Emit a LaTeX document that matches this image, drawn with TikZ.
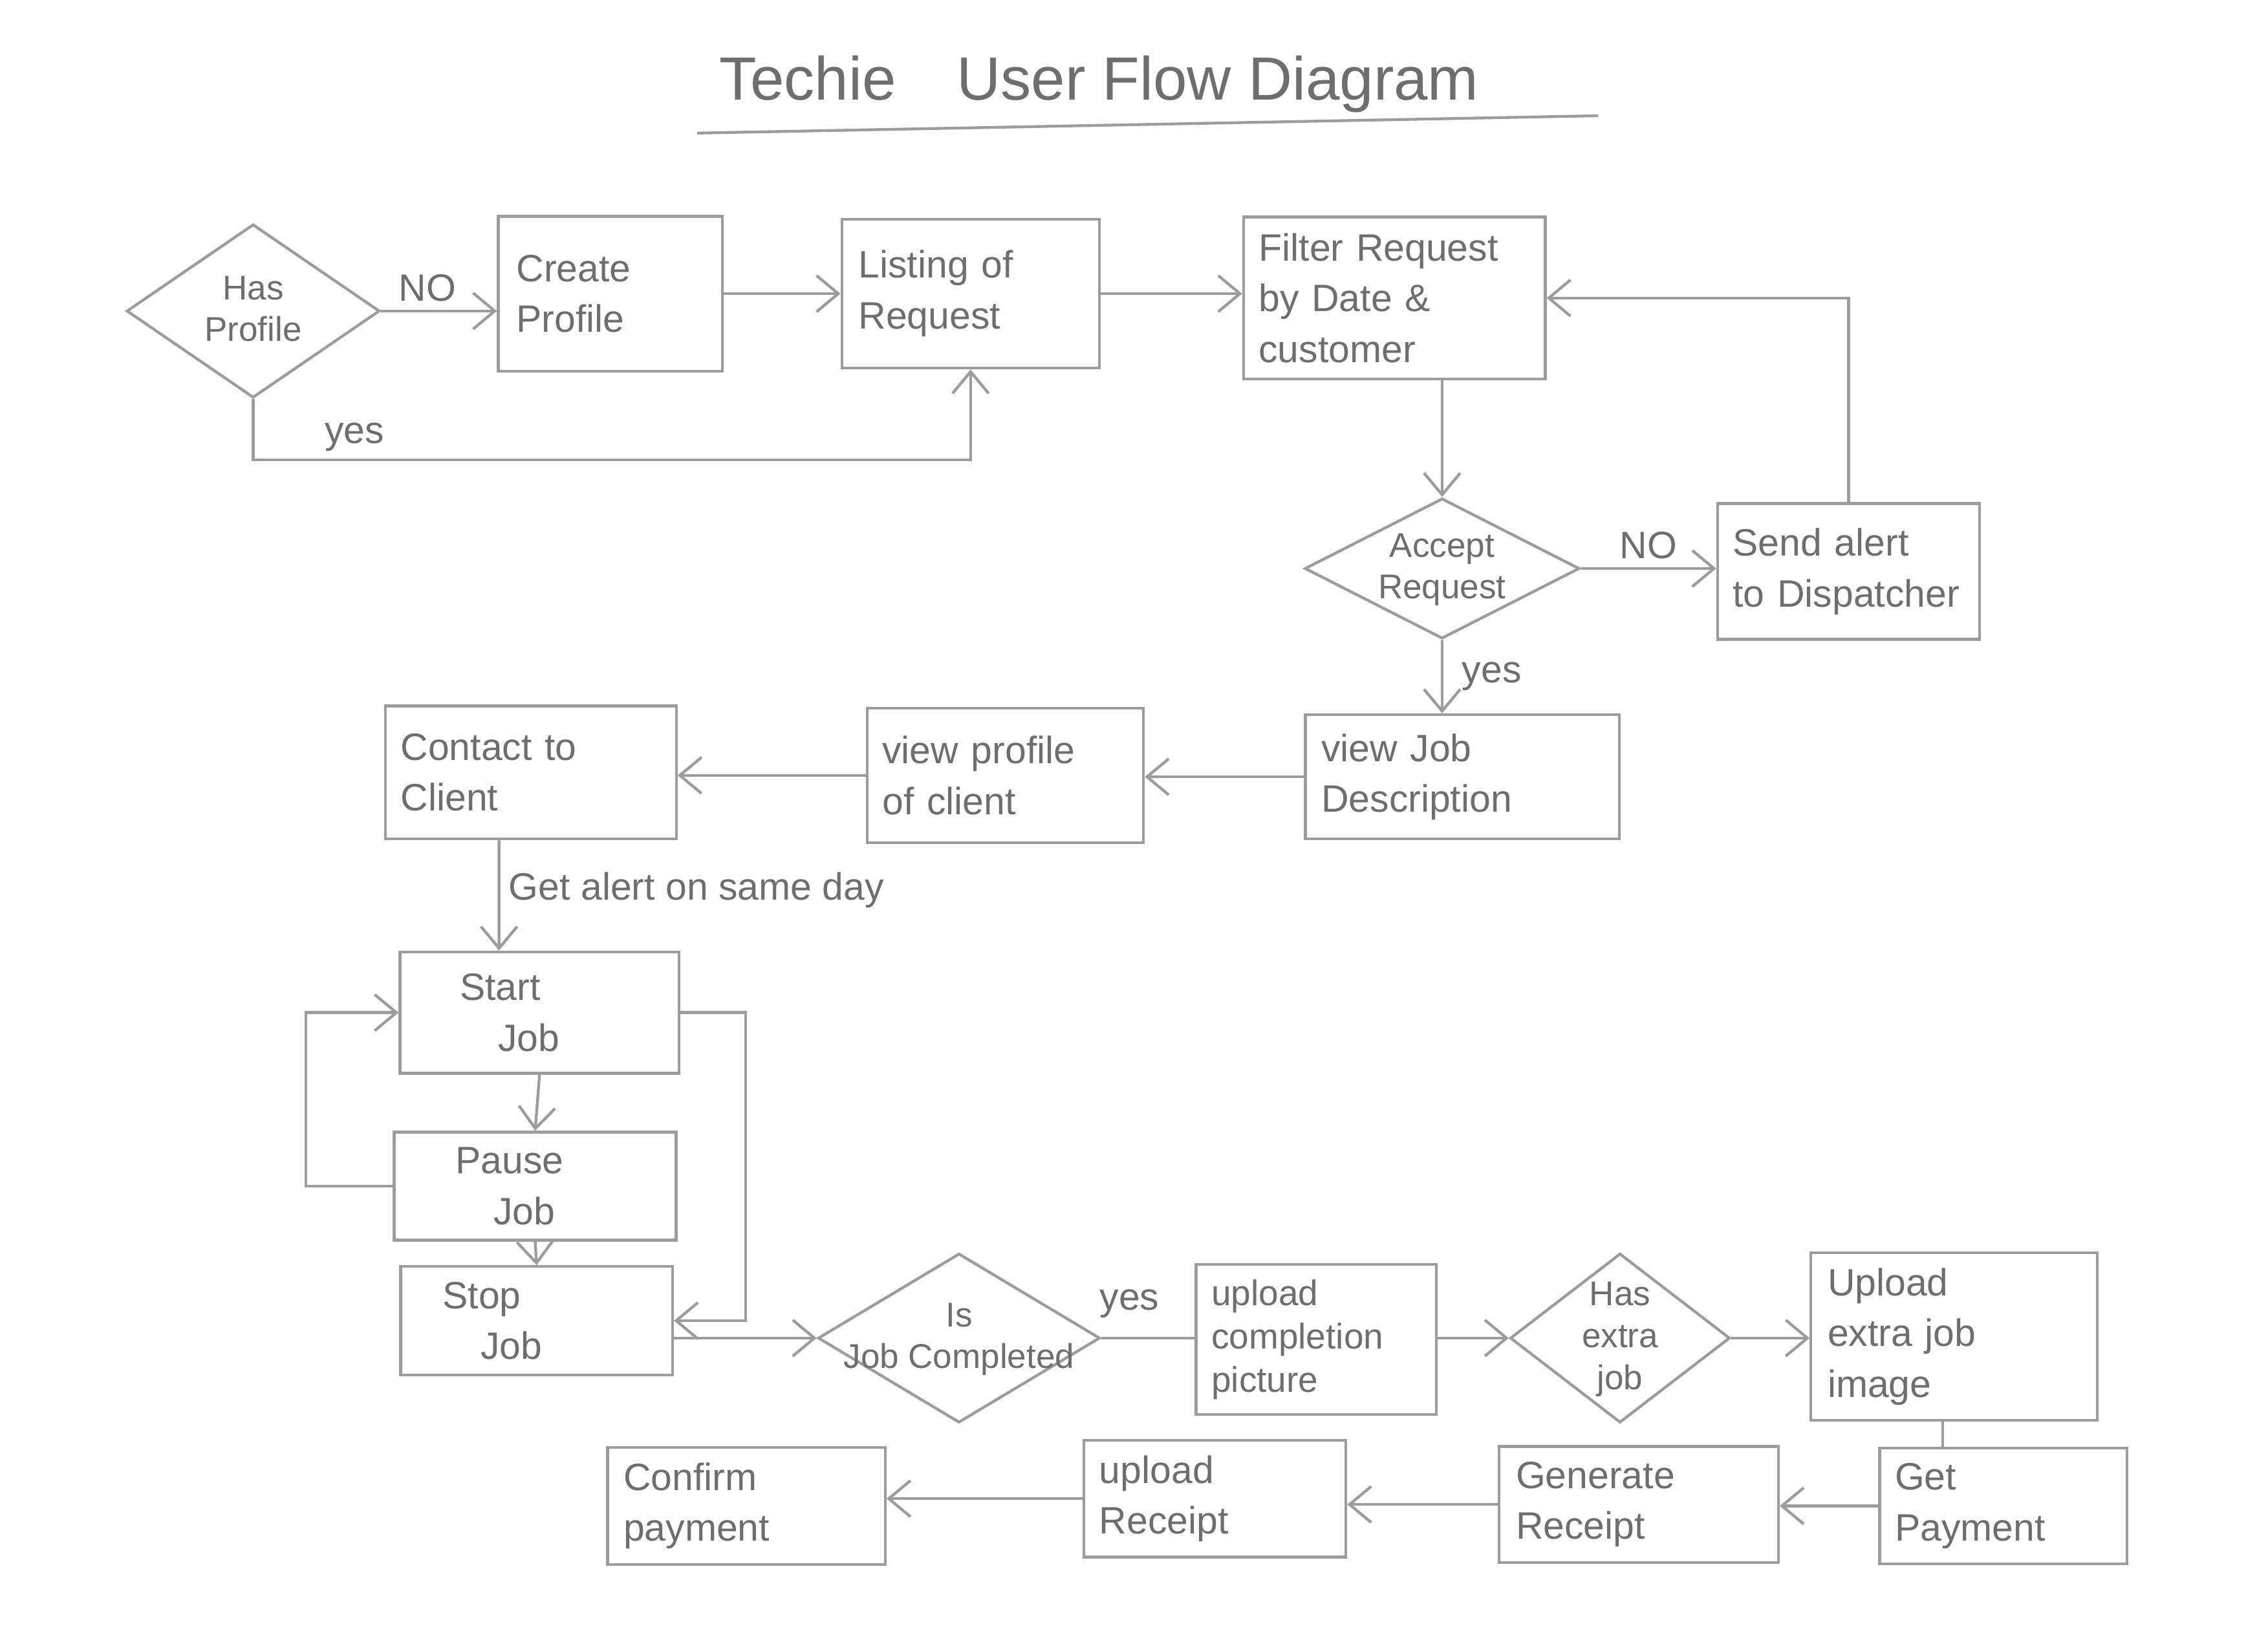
\documentclass[tikz,border=0pt]{standalone}
\usepackage{fontspec}
\setmainfont{Liberation Sans}
\usetikzlibrary{shapes.geometric,arrows.meta,calc}
\definecolor{pencil}{HTML}{9C9C9C}
\definecolor{pentext}{HTML}{6E6E6E}
\newcommand\diatext[1]{\raisebox{-4pt}[0pt][0pt]{\makebox[0pt]{\fontsize{13.5}{16.5}\selectfont\begin{tabular}{@{}c@{}}#1\end{tabular}}}}
\begin{document}
\begin{tikzpicture}[x=0.02cm,y=-0.02cm,
  every node/.style={text=pentext,font=\fontsize{15}{20}\selectfont},
  box/.style={draw=pencil,line width=1.1pt,rectangle,align=left,inner sep=6pt},
  dia/.style={draw=pencil,line width=1.1pt,diamond,inner sep=0pt},
  flow/.style={draw=pencil,line width=1.1pt,-{Straight Barb[length=3mm,width=5mm]}},
  plain/.style={draw=pencil,line width=1.1pt},
  lbl/.style={font=\fontsize{15}{18}\selectfont}]
\useasboundingbox (0,0) rectangle (1568,1130);

% title
\node (title) at (760,58) {\fontsize{24}{28}\selectfont Techie\quad User Flow Diagram};
\draw[plain] (482,92) -- (1105,80);

% row 1
\node[dia,minimum width=3.5cm,minimum height=2.4cm] (hasprof) at (175,215) {\diatext{Has\\Profile}};
\node[box,minimum width=3.1cm,minimum height=2.14cm,text width=2.6cm] (create) at (422,203) {Create\\Profile};
\node[box,minimum width=3.56cm,minimum height=2.06cm,text width=3.1cm] (listing) at (671,203) {Listing of\\Request};
\node[box,minimum width=4.16cm,minimum height=2.24cm,text width=3.75cm] (filter) at (964,206) {Filter Request\\by Date \&\\customer};

% row 2
\node[dia,minimum width=3.8cm,minimum height=1.94cm] (accept) at (997,393) {\diatext{Accept\\Request}};
\node[box,minimum width=3.6cm,minimum height=1.88cm,text width=3.2cm] (send) at (1278,395) {Send alert\\to Dispatcher};

% row 3
\node[box,minimum width=4.34cm,minimum height=1.72cm,text width=3.9cm] (viewjob) at (1011,537) {view Job\\Description};
\node[box,minimum width=3.8cm,minimum height=1.86cm,text width=3.4cm] (viewprof) at (695,536) {view profile\\of client};
\node[box,minimum width=4.02cm,minimum height=1.84cm,text width=3.6cm] (contact) at (367,534) {Contact to\\Client};

% job column
\node[box,minimum width=3.86cm,minimum height=1.68cm,text width=2.2cm] (start) at (373,700) {Start\\\quad Job};
\node[box,minimum width=3.9cm,minimum height=1.2cm,text width=2.2cm] (pause) at (370,820) {Pause\\\quad Job};
\node[box,minimum width=3.76cm,minimum height=1.08cm,text width=2.6cm] (stop) at (371,913) {Stop\\\quad Job};

% row 5
\node[dia,minimum width=3.9cm,minimum height=2.34cm] (isjob) at (663,925) {\diatext{Is\\Job Completed}};
\node[box,minimum width=3.3cm,minimum height=1.66cm,text width=2.9cm,font=\fontsize{14}{17}\selectfont] (upcomp) at (910,926) {upload\\completion\\picture};
\node[dia,minimum width=3.04cm,minimum height=2.34cm] (extra) at (1120,925) {\diatext{Has\\extra\\job}};
\node[box,minimum width=3.96cm,minimum height=1.9cm,text width=3.5cm] (upextra) at (1351,924) {Upload\\extra job\\image};

% row 6
\node[box,minimum width=3.4cm,minimum height=1.36cm,text width=3.0cm] (getpay) at (1385,1041) {Get\\Payment};
\node[box,minimum width=3.86cm,minimum height=1.4cm,text width=3.4cm] (genrec) at (1133,1040) {Generate\\Receipt};
\node[box,minimum width=3.6cm,minimum height=1.34cm,text width=3.2cm] (uprec) at (840,1036) {upload\\Receipt};
\node[box,minimum width=3.84cm,minimum height=1.46cm,text width=3.4cm] (confirm) at (516,1041) {Confirm\\payment};

\coordinate (yescorner) at (175,318);

% connectors
\draw[flow] (hasprof.east) -- node[lbl,above,pos=0.4] (lno1) {NO} (hasprof.east -| create.west);
\draw[flow] (create) -- (listing);
\draw[flow] (listing.east) -- (listing.east -| filter.west);
\draw[flow] (hasprof.south) -- (yescorner) -| (listing.south);
\node[lbl] (lyes1) at (245,302) {yes};
\draw[flow] (accept.north |- filter.south) -- (accept.north);
\draw[flow] (accept.east) -- node[lbl,above] (lno2) {NO} (accept.east -| send.west);
\draw[flow] (send.north) |- (filter.east);
\draw[flow] (accept.south) -- node[lbl,right,xshift=4pt] (lyes2) {yes} (accept.south |- viewjob.north);
\draw[flow] (viewjob.west) -- (viewjob.west -| viewprof.east);
\draw[flow] (viewprof.west) -- (viewprof.west -| contact.east);
\draw[flow] ($(contact.south)+(-0.44cm,0)$) -- node[lbl,right,pos=0.45] (lalert) {Get alert on same day} ($(start.north)+(-0.56cm,0)$);
\draw[flow] (start.south) -- (pause.north);
\draw[flow] (pause.south) -- (stop.north);
\draw[flow] (pause.west) -- ++(-1.2cm,0) |- (start.west);
\draw[flow] (start.east) -- ++(0.9cm,0) |- (stop.east);
\draw[flow] (isjob.west -| stop.east) -- (isjob.west);
\draw[plain] (isjob.east) -- node[lbl,above,pos=0.3,yshift=4pt] (lyes3) {yes} (isjob.east -| upcomp.west);
\draw[flow] (upcomp.east |- extra.west) -- (extra.west);
\draw[flow] (extra.east) -- (extra.east -| upextra.west);
\draw[plain] ($(upextra.south)+(-0.16cm,0)$) -- ($(upextra.south |- getpay.north)+(-0.16cm,0)$);
\draw[flow] (getpay.west) -- (getpay.west -| genrec.east);
\draw[flow] (genrec.west) -- (genrec.west -| uprec.east);
\draw[flow] (uprec.west) -- (uprec.west -| confirm.east);
\end{tikzpicture}
\end{document}
